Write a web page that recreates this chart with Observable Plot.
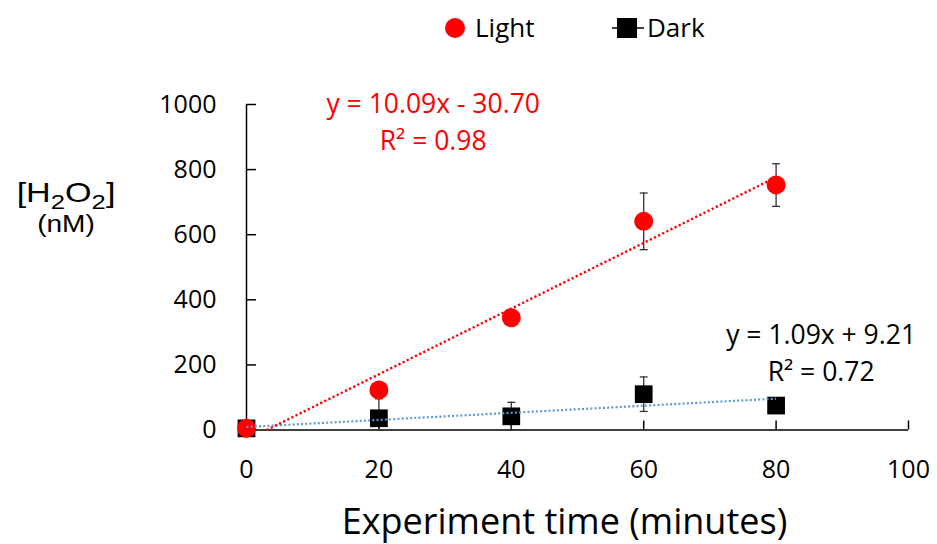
<!DOCTYPE html>
<html><head><meta charset="utf-8">
<script src="https://cdn.jsdelivr.net/npm/d3@7"></script>
<script src="https://cdn.jsdelivr.net/npm/@observablehq/plot@0.6"></script>
<style>
body{margin:0;background:#fff;font-family:"Open Sans",sans-serif;}
#wrap{position:relative;width:937px;height:544px;}
#legend{position:relative;height:56px;}
.lg{position:absolute;font-size:26px;line-height:26px;top:14px;color:#000;}
.yt{position:absolute;left:0;width:132px;text-align:center;font-family:"Liberation Sans",Arial,sans-serif;transform:scaleX(1.22);transform-origin:66px 0;}
</style></head>
<body><div id="wrap">
<div id="legend">
  <div style="position:absolute;left:445px;top:18px;width:20px;height:20px;border-radius:50%;background:#ff0000"></div>
  <div class="lg" style="left:475px">Light</div>
  <svg style="position:absolute;left:610px;top:17px" width="36" height="22"><line x1="2" y1="11" x2="34" y2="11" stroke="#000" stroke-width="1.5"/><rect x="7" y="1" width="20" height="20" fill="#000"/></svg>
  <div class="lg" style="left:647px">Dark</div>
</div>
<div class="yt" style="top:178px;font-size:28px;line-height:30px">[H<sub style="font-size:21px;vertical-align:-7px;line-height:0">2</sub>O<sub style="font-size:21px;vertical-align:-7px;line-height:0">2</sub>]</div>
<div class="yt" style="top:211px;font-size:23px;line-height:26px">(nM)</div>
<div id="chart"></div>
</div>
<script>
const times = [0, 20, 40, 60, 80];
const lightMean = [5, 123, 345, 641, 753];
const lightLow  = [5, 110, 335, 554, 687];
const lightHigh = [5, 136, 355, 728, 818];
const darkMean  = [5, 36, 42, 110, 75];
const darkLow   = [5, 0, 0, 57, 62];
const darkHigh  = [5, 96, 85, 163, 88];
const fitSlope  = [10.09, 1.09];
const fitIntercept = [-30.70, 9.21];
const fitSeries = ["Light", "Dark"];
const eqLabels = ["y = 10.09x - 30.70", "y = 1.09x + 9.21"];
const r2Labels = ["R² = 0.98", "R² = 0.72"];
const xTicks = [0, 20, 40, 60, 80, 100];
const yTicks = [0, 200, 400, 600, 800, 1000];

const light = times.map((t, i) => ({t, y: lightMean[i], lo: lightLow[i], hi: lightHigh[i]}));
const dark = times.map((t, i) => ({t, y: darkMean[i], lo: darkLow[i], hi: darkHigh[i]}));
const xmin = d3.min(times), xmax = d3.max(times);
const fits = fitSeries.map((s, i) => {
  const m = fitSlope[i], b = fitIntercept[i];
  const x0 = Math.max(xmin, -b / m);
  return [{s, x: x0, y: m * x0 + b}, {s, x: xmax, y: m * xmax + b}];
});

const cap = {draw(ctx) { ctx.moveTo(-4, 0); ctx.lineTo(4, 0); }};
const font = "'Open Sans', sans-serif";
const fmt = d => String(d);

const chart = Plot.plot({
  width: 937, height: 488,
  marginLeft: 246, marginRight: 29, marginTop: 48, marginBottom: 114.5,
  style: {fontFamily: font, background: "white", overflow: "visible"},
  x: {domain: [0, 100]},
  y: {domain: [0, 1000]},
  marks: [
    Plot.axisX({ticks: xTicks, tickSize: -9, tickFormat: () => "", label: null, stroke: "#000", strokeOpacity: 1, strokeWidth: 1.5}),
    Plot.axisX({ticks: xTicks, tickSize: 0, tickPadding: 30, tickFormat: fmt, label: null, fontSize: 25, fill: "#000"}),
    Plot.axisY({ticks: yTicks, tickSize: -10, tickFormat: () => "", label: null, stroke: "#000", strokeOpacity: 1, strokeWidth: 1.5}),
    Plot.axisY({ticks: yTicks, tickSize: 0, tickPadding: 30, tickFormat: fmt, label: null, fontSize: 25, fill: "#000"}),
    Plot.ruleX([0], {y1: 0, y2: 1000, stroke: "#000", strokeWidth: 1.5}),
    Plot.ruleY([0], {x1: 0, x2: 100, stroke: "#000", strokeWidth: 1.5}),
    Plot.text(["Experiment time (minutes)"], {frameAnchor: "bottom", dx: -13, dy: 104, fontSize: 36, fill: "#000", lineAnchor: "bottom"}),
    // error bars
    Plot.ruleX(dark, {x: "t", y1: "lo", y2: "hi", stroke: "#333", strokeWidth: 1.3}),
    Plot.dot(dark, {x: "t", y: "hi", symbol: cap, stroke: "#333", strokeWidth: 1.3, r: 4}),
    Plot.dot(dark, {x: "t", y: "lo", symbol: cap, stroke: "#333", strokeWidth: 1.3, r: 4}),
    Plot.ruleX(light, {x: "t", y1: "lo", y2: "hi", stroke: "#333", strokeWidth: 1.3}),
    Plot.dot(light, {x: "t", y: "hi", symbol: cap, stroke: "#333", strokeWidth: 1.3, r: 4}),
    Plot.dot(light, {x: "t", y: "lo", symbol: cap, stroke: "#333", strokeWidth: 1.3, r: 4}),
    // points
    Plot.dot(dark, {x: "t", y: "y", symbol: "square", r: 10, fill: "#000"}),
    Plot.dot(light, {x: "t", y: "y", symbol: "circle", r: 9.5, fill: "#ff0000"}),
    // trendlines
    Plot.line(fits[1], {x: "x", y: "y", stroke: "#5b9bd5", strokeWidth: 2.2, strokeDasharray: "2,2.2", strokeLinecap: "butt"}),
    Plot.line(fits[0], {x: "x", y: "y", stroke: "#ff0000", strokeWidth: 2.4, strokeDasharray: "2.2,2.4", strokeLinecap: "butt"}),
    // equations
    Plot.text([eqLabels[0]], {x: 28.2, y: 988, fill: "#ff0000", fontSize: 26.5, lineAnchor: "bottom", dy: 5}),
    Plot.text([r2Labels[0]], {x: 28.2, y: 877, fill: "#ff0000", fontSize: 26.5, lineAnchor: "bottom", dy: 5}),
    Plot.text([eqLabels[1]], {x: 86.8, y: 280, fill: "#000", fontSize: 26.5, lineAnchor: "bottom", dy: 5}),
    Plot.text([r2Labels[1]], {x: 86.8, y: 167, fill: "#000", fontSize: 26.5, lineAnchor: "bottom", dy: 5})
  ]
});
document.getElementById("chart").appendChild(chart);
</script>
</body></html>
